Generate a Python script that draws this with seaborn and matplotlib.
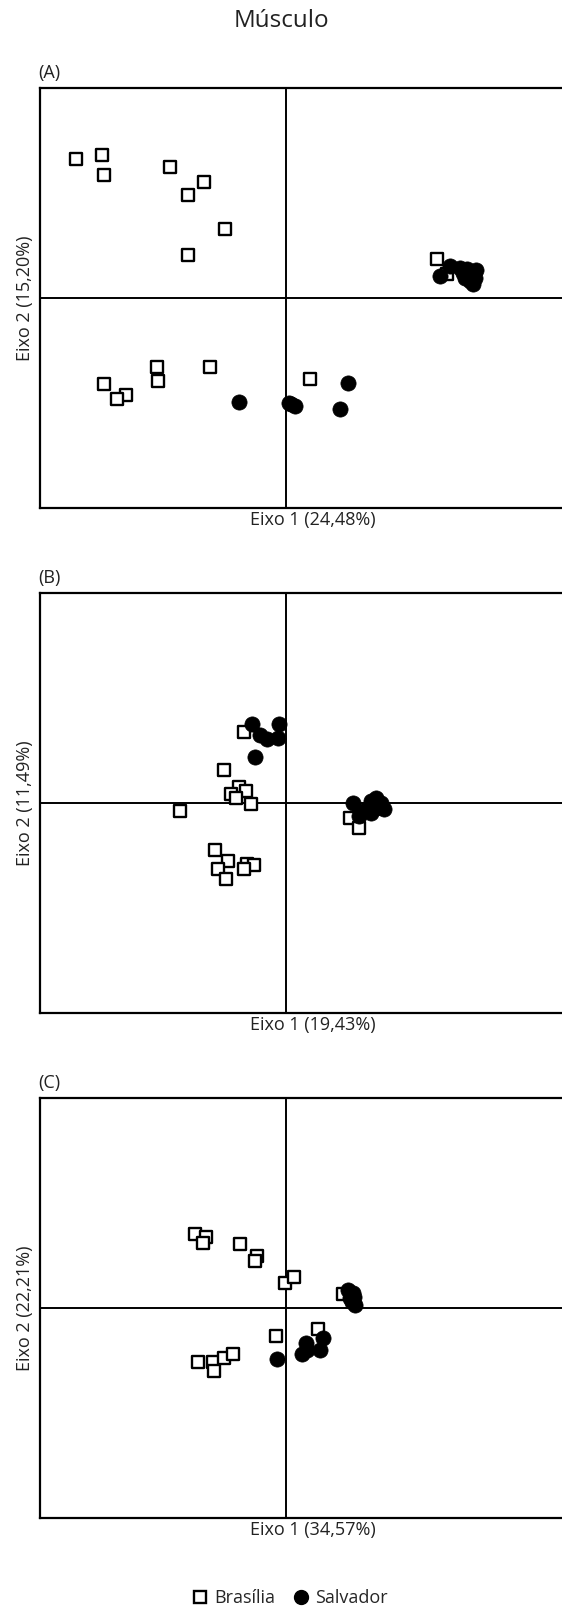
import matplotlib
matplotlib.use("Agg")
import matplotlib.pyplot as plt
from matplotlib.lines import Line2D
import seaborn as sns
import pandas as pd

# scores (centre of each panel = origin)
a_bra_x = [-209.7, -184.3, -182, -116.3, -82.3, -98.3, -61, -98.3, 150.7, 160.7,
           -129, -128, -76, -181.7, -160, -169, 24]
a_bra_y = [138.7, 142.7, 123.3, 131, 115.7, 102.7, 69.3, 42.7, 38.7, 23.7,
           -68.7, -83, -68.7, -85.7, -97.3, -101.3, -80.7]
a_sal_x = [-46.7, 3.3, 9, 5, 62, 54.3,
           154, 164, 174, 180.7, 190, 179, 184, 186.7, 189, 177.3]
a_sal_y = [-103.7, -104.7, -108.3, -106, -85.3, -111.3,
           22, 32, 30.3, 28.7, 27.7, 20.3, 17, 13.7, 20.3, 25.3]

b_bra_x = [-42.3, -62.3, -46.7, -40, -55.3, -49.7, -35, -105.7, -70.7, -58,
           -68.3, -59.7, -39.3, -31.7, -42, 64, 72.7]
b_bra_y = [70.7, 32.7, 16.3, 12.3, 8.7, 4.7, -1, -8.3, -47, -58.3,
           -66, -75.7, -61.3, -62.3, -66.3, -14.7, -25.3]
b_sal_x = [-33.7, -7.3, -26.3, -19.3, -7.7, -31,
           66.7, 76.7, 85, 90, 95, 97.7, 85, 81.7, 90, 73.3]
b_sal_y = [78.7, 79, 68, 64, 64.7, 46.3,
           0, -8.3, 1.7, 5, 0, -6, -10, -5, -5, -13.3]

c_bra_x = [-91, -79.7, -83, -46, -28.7, -31.3, -0.7, 7.7, 57.3, 31.7,
           -10.3, -87.7, -73.3, -72.3, -62, -53]
c_bra_y = [74, 71.3, 64.7, 64, 52.3, 47.3, 25.3, 31, 14, -21.3,
           -28, -53.7, -53.7, -63, -49.7, -46.3]
c_sal_x = [-9, 15.7, 20, 21.3, 34, 37.3,
           62.3, 67.3, 64, 69, 65.7, 68]
c_sal_y = [-51, -46.3, -35.3, -42, -42, -30.3,
           18, 14.7, 9.7, 3, 6.3, 11]

panels = ["(A)", "(B)", "(C)"]
x_labels = ["Eixo 1 (24,48%)", "Eixo 1 (19,43%)", "Eixo 1 (34,57%)"]
y_labels = ["Eixo 2 (15,20%)", "Eixo 2 (11,49%)", "Eixo 2 (22,21%)"]
groups = ["Brasília", "Salvador"]

rows = []
for p, bx, by, sx, sy in [
    ("(A)", a_bra_x, a_bra_y, a_sal_x, a_sal_y),
    ("(B)", b_bra_x, b_bra_y, b_sal_x, b_sal_y),
    ("(C)", c_bra_x, c_bra_y, c_sal_x, c_sal_y),
]:
    rows += [(p, x, y, "Brasília") for x, y in zip(bx, by)]
    rows += [(p, x, y, "Salvador") for x, y in zip(sx, sy)]
df = pd.DataFrame(rows, columns=["painel", "eixo1", "eixo2", "local"])

sns.set_style("white")
plt.rcParams["font.family"] = ["Open Sans", "DejaVu Sans"]

W, H = 562, 1609
fig = plt.figure(figsize=(W / 100, H / 100), dpi=100)
fig.text(0.5, 1 - 21 / H, "Músculo", ha="center", va="center", fontsize=17.5,
         color="#222222")

tops = [88, 593, 1098]
for i, p in enumerate(panels):
    top = tops[i]
    ax = fig.add_axes([40 / W, 1 - (top + 420) / H, 546 / W, 420 / H])
    sub = df[df["painel"] == p]
    ax.axhline(0, color="black", lw=1.4, zorder=1)
    ax.axvline(0, color="black", lw=1.4, zorder=1)
    bra = sub[sub["local"] == "Brasília"]
    sal = sub[sub["local"] == "Salvador"]
    sns.scatterplot(data=bra, x="eixo1", y="eixo2", marker="s", s=85,
                    color="white", edgecolor="black", linewidth=1.7, ax=ax, zorder=3)
    sns.scatterplot(data=sal, x="eixo1", y="eixo2", marker="o", s=120,
                    color="black", edgecolor="black", linewidth=0.5, ax=ax, zorder=4)
    ax.set_xlim(-246, 300)
    ax.set_ylim(-210, 210)
    ax.set_xticks([])
    ax.set_yticks([])
    ax.set_xlabel(x_labels[i], fontsize=13, labelpad=2, color="#222222")
    ax.set_ylabel(y_labels[i], fontsize=13, labelpad=4, color="#222222")
    for sp in ax.spines.values():
        sp.set_color("black")
        sp.set_linewidth(1.6)
    fig.text(38 / W, 1 - (top - 15) / H, p, ha="left", va="center", fontsize=13,
             color="#222222")

handles = [
    Line2D([], [], marker="s", ls="", markersize=8.5, markerfacecolor="white",
           markeredgecolor="black", markeredgewidth=1.7, label=groups[0]),
    Line2D([], [], marker="o", ls="", markersize=10, markerfacecolor="black",
           markeredgecolor="black", label=groups[1]),
]
fig.legend(handles=handles, loc="center", bbox_to_anchor=(0.515, 1 - 1598 / H),
           ncol=2, frameon=False, fontsize=13, handletextpad=0.3,
           columnspacing=0.9, handlelength=1.0, borderpad=0)

fig.savefig("out.png", dpi=100)
